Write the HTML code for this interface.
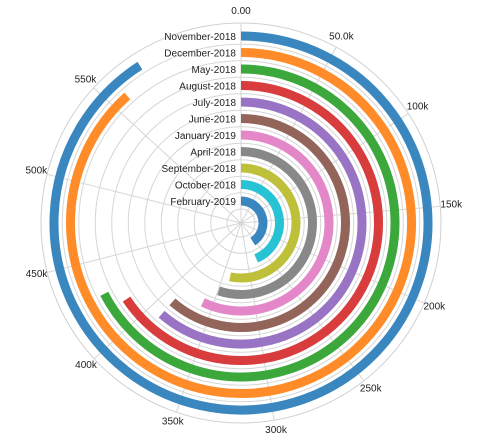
<!DOCTYPE html>
<html><head><meta charset="utf-8"><style>
html,body{margin:0;padding:0;background:#fff;}
svg{display:block;font-family:"Liberation Sans",sans-serif;}
</style></head><body>
<svg id="chart" width="490" height="437" viewBox="0 0 490 437"></svg>
<script>
const categories = ["November-2018","December-2018","May-2018","August-2018","July-2018","June-2018","January-2019","April-2018","September-2018","October-2018","February-2019"];
const values = [576,560,427,416,389,389,362,349,337,276,260];
const tickValues = [0,50,100,150,200,250,300,350,400,450,500,550];
const tickLabels = ["0.00","50.0k","100k","150k","200k","250k","300k","350k","400k","450k","500k","550k"];
const colors = ["#3a87c0","#ff8c28","#3ca83c","#d83c3c","#9a74c4","#93645a","#e487c8","#888888","#bfc03a","#27c2d4","#3a87c0"];

const svg = document.getElementById('chart');
const NS = 'http://www.w3.org/2000/svg';
const cx = 241, cy = 223, outerR = 200;
const maxDomain = Math.max(...values) * 1.1;
const ang = v => v / maxDomain * 2 * Math.PI;
const ringR = i => 187 - i * 16.5;
const pt = (r, a) => [cx + r * Math.sin(a), cy - r * Math.cos(a)];
function mk(tag, attrs, parent) { const e = document.createElementNS(NS, tag); for (const k in attrs) e.setAttribute(k, attrs[k]); (parent || svg).appendChild(e); return e; }

const grid = mk('g', {});


for (let i = 0; i < categories.length - 1; i++) {
  const c = mk('circle', {cx, cy, r: (ringR(i) + ringR(i + 1)) / 2, fill: 'none', stroke: '#d6d6d6', 'stroke-width': 1}, grid);
  
  
}
const oc = mk('circle', {cx, cy, r: outerR, fill: 'none', stroke: '#d0d0d0', 'stroke-width': 1}, grid);


const ic = mk('circle', {cx, cy, r: 14, fill: 'none', stroke: '#d6d6d6', 'stroke-width': 1}, grid);



tickValues.forEach((v, i) => {
  const a = ang(v);
  const [x, y] = pt(outerR, a);
  const l = mk('line', {x1: cx, y1: cy, x2: x, y2: y, stroke: '#d6d6d6', 'stroke-width': 1}, grid);
  
  
  const [tx, ty] = pt(211, a);
  const t = mk('text', {x: tx, y: ty + 2, 'text-anchor': 'middle', 'font-size': 10, fill: '#222'});
  t.textContent = tickLabels[i];
  
  
});

categories.forEach((c, i) => {
  const r = ringR(i);
  const a = ang(values[i]);
  const [x0, y0] = pt(r, 0);
  const [x1, y1] = pt(r, a);
  const large = a > Math.PI ? 1 : 0;
  const p = mk('path', {d: `M${x0},${y0} A${r},${r} 0 ${large} 1 ${x1},${y1}`, fill: 'none', stroke: colors[i], 'stroke-width': 9});
  
  
  const t = mk('text', {x: cx - 5, y: cy - r + 4, 'text-anchor': 'end', 'font-size': 10, fill: '#222'});
  t.textContent = c;
  
  
});
</script>
</body></html>
